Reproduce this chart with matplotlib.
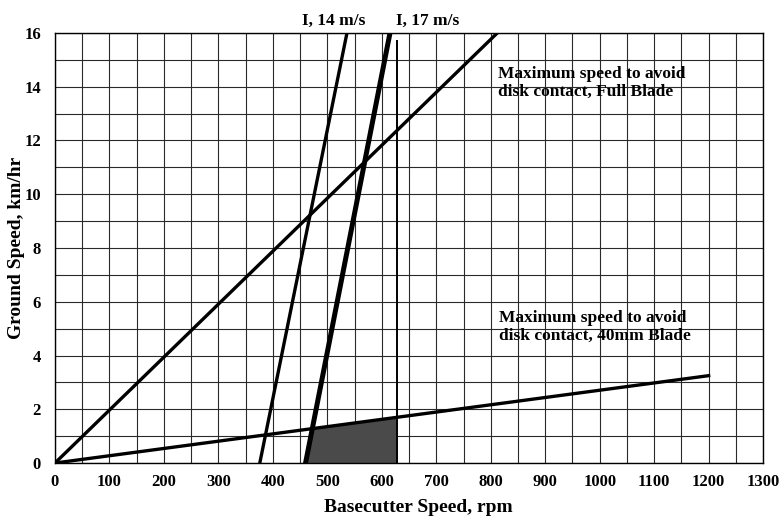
import numpy as np
import matplotlib
matplotlib.use("Agg")
from matplotlib import pyplot as plt

plt.rcParams['font.family'] = ['Liberation Serif', 'DejaVu Serif']
plt.rcParams['font.weight'] = 'bold'

# line endpoints (rpm, km/hr)
full_blade_x = [0, 812]
full_blade_y = [0, 16]
blade40_x = [0, 1200]
blade40_y = [0, 3.25]
i14_x = [376, 536]
i14_y = [0, 16]
i17_x = [460, 615]
i17_y = [0, 16]
limit_rpm = 627
limit_top = 15.7

x_ticks = np.arange(0, 1301, 100)
y_ticks = np.arange(0, 17, 2)

fig = plt.figure(figsize=(7.79, 5.21), dpi=100)
ax = fig.add_axes([0.0706, 0.1113, 0.909, 0.8254])

ax.set_xlim(0, 1300)
ax.set_ylim(0, 16)
for gx in np.arange(0, 1301, 50):
    ax.axvline(gx, color='#2a2a2a', lw=0.8, zorder=1)
for gy in np.arange(0, 17, 1):
    ax.axhline(gy, color='#2a2a2a', lw=0.8, zorder=1)

# shaded operating window
s17 = (i17_y[1] - i17_y[0]) / (i17_x[1] - i17_x[0])
s40 = blade40_y[1] / blade40_x[1]
xc = (s17 * i17_x[0]) / (s17 - s40)
poly_x = [i17_x[0], xc, limit_rpm, limit_rpm]
poly_y = [0, s40 * xc, s40 * limit_rpm, 0]
ax.fill(poly_x, poly_y, color='#4a4a4a', zorder=2, lw=0)

ax.plot(full_blade_x, full_blade_y, color='black', lw=2.4, zorder=3)
ax.plot(blade40_x, blade40_y, color='black', lw=2.4, zorder=3)
ax.plot(i14_x, i14_y, color='black', lw=2.4, zorder=3)
ax.plot(i17_x, i17_y, color='black', lw=3.6, zorder=3)
ax.plot([limit_rpm, limit_rpm], [0, limit_top], color='black', lw=1.4, zorder=3)

ax.set_xticks(x_ticks)
ax.set_yticks(y_ticks)
ax.tick_params(length=0, labelsize=12)
ax.tick_params(axis='y', pad=10)
ax.tick_params(axis='x', pad=8)
for lab in ax.get_xticklabels() + ax.get_yticklabels():
    lab.set_fontweight('bold')
for sp in ax.spines.values():
    sp.set_linewidth(1.0)

fig.text(418 / 779, 1 - 508 / 521, 'Basecutter Speed, rpm', fontsize=14,
         fontweight='bold', ha='center', va='center')
fig.text(17 / 779, 1 - 248 / 521, 'Ground Speed, km/hr', fontsize=14,
         fontweight='bold', ha='center', va='center', rotation=90)

ax.text(512, 16.3, 'I, 14 m/s', fontsize=12.5, fontweight='bold', ha='center', va='baseline')
ax.text(685, 16.3, 'I, 17 m/s', fontsize=12.5, fontweight='bold', ha='center', va='baseline')
ax.text(813, 14.15, 'Maximum speed to avoid\ndisk contact, Full Blade', fontsize=12.5,
        fontweight='bold', ha='left', va='center', linespacing=1.2)
ax.text(816, 5.06, 'Maximum speed to avoid\ndisk contact, 40mm Blade', fontsize=12.5,
        fontweight='bold', ha='left', va='center', linespacing=1.2)

fig.savefig('out.png', dpi=100)
